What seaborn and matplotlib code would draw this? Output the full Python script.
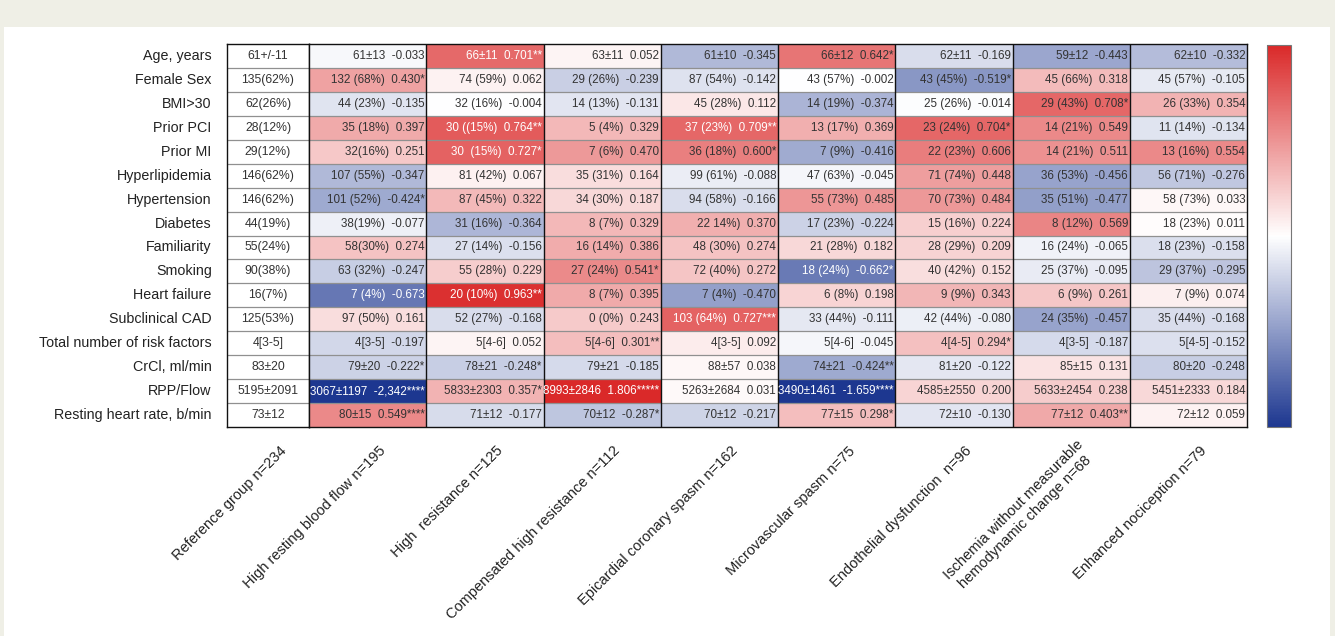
import numpy as np
import pandas as pd
import matplotlib
matplotlib.use("Agg")
import matplotlib.pyplot as plt
import matplotlib.transforms as mtransforms
from matplotlib.colors import LinearSegmentedColormap, ListedColormap
from matplotlib.patches import Rectangle
import seaborn as sns

# ---------------- data ----------------
rows = ["Age, years", "Female Sex", "BMI>30", "Prior PCI", "Prior MI", "Hyperlipidemia",
        "Hypertension", "Diabetes", "Familiarity", "Smoking", "Heart failure",
        "Subclinical CAD", "Total number of risk factors", "CrCl, ml/min", "RPP/Flow",
        "Resting heart rate, b/min"]

groups = ["Reference group n=234", "High resting blood flow n=195", "High  resistance n=125",
          "Compensated high resistance n=112", "Epicardial coronary spasm n=162",
          "Microvascular spasm n=75", "Endothelial dysfunction  n=96",
          "Ischemia without measurable\nhemodynamic change n=68", "Enhanced nociception n=79"]

ref_text = ["61+/-11", "135(62%)", "62(26%)", "28(12%)", "29(12%)", "146(62%)", "146(62%)",
            "44(19%)", "55(24%)", "90(38%)", "16(7%)", "125(53%)", "4[3-5]", "83±20",
            "5195±2091", "73±12"]

r_hrbf = [-0.033, 0.430, -0.135, 0.397, 0.251, -0.347, -0.424, -0.077, 0.274, -0.247,
          -0.673, 0.161, -0.197, -0.222, -2.342, 0.549]
t_hrbf = ["61±13  -0.033", "132 (68%)  0.430*", "44 (23%)  -0.135", "35 (18%)  0.397",
          "32(16%)  0.251", "107 (55%)  -0.347", "101 (52%)  -0.424*", "38(19%)  -0.077",
          "58(30%)  0.274", "63 (32%)  -0.247", "7 (4%)  -0.673", "97 (50%)  0.161",
          "4[3-5]  -0.197", "79±20  -0.222*", "3067±1197  -2,342****", "80±15  0.549****"]

r_hr = [0.701, 0.062, -0.004, 0.764, 0.727, 0.067, 0.322, -0.364, -0.156, 0.229,
        0.963, -0.168, 0.052, -0.248, 0.357, -0.177]
t_hr = ["66±11  0.701**", "74 (59%)  0.062", "32 (16%)  -0.004", "30 ((15%)  0.764**",
        "30  (15%)  0.727*", "81 (42%)  0.067", "87 (45%)  0.322", "31 (16%)  -0.364",
        "27 (14%)  -0.156", "55 (28%)  0.229", "20 (10%)  0.963**", "52 (27%)  -0.168",
        "5[4-6]  0.052", "78±21  -0.248*", "5833±2303  0.357*", "71±12  -0.177"]

r_chr = [0.052, -0.239, -0.131, 0.329, 0.470, 0.164, 0.187, 0.329, 0.386, 0.541,
         0.395, 0.243, 0.301, -0.185, 1.806, -0.287]
t_chr = ["63±11  0.052", "29 (26%)  -0.239", "14 (13%)  -0.131", "5 (4%)  0.329",
         "7 (6%)  0.470", "35 (31%)  0.164", "34 (30%)  0.187", "8 (7%)  0.329",
         "16 (14%)  0.386", "27 (24%)  0.541*", "8 (7%)  0.395", "0 (0%)  0.243",
         "5[4-6]  0.301**", "79±21  -0.185", "8993±2846  1.806*****", "70±12  -0.287*"]

r_ecs = [-0.345, -0.142, 0.112, 0.709, 0.600, -0.088, -0.166, 0.370, 0.274, 0.272,
         -0.470, 0.727, 0.092, 0.038, 0.031, -0.217]
t_ecs = ["61±10  -0.345", "87 (54%)  -0.142", "45 (28%)  0.112", "37 (23%)  0.709**",
         "36 (18%)  0.600*", "99 (61%)  -0.088", "94 (58%)  -0.166", "22 14%)  0.370",
         "48 (30%)  0.274", "72 (40%)  0.272", "7 (4%)  -0.470", "103 (64%)  0.727***",
         "4[3-5]  0.092", "88±57  0.038", "5263±2684  0.031", "70±12  -0.217"]

r_mvs = [0.642, -0.002, -0.374, 0.369, -0.416, -0.045, 0.485, -0.224, 0.182, -0.662,
         0.198, -0.111, -0.045, -0.424, -1.659, 0.298]
t_mvs = ["66±12  0.642*", "43 (57%)  -0.002", "14 (19%)  -0.374", "13 (17%)  0.369",
         "7 (9%)  -0.416", "47 (63%)  -0.045", "55 (73%)  0.485", "17 (23%)  -0.224",
         "21 (28%)  0.182", "18 (24%)  -0.662*", "6 (8%)  0.198", "33 (44%)  -0.111",
         "5[4-6]  -0.045", "74±21  -0.424**", "3490±1461  -1.659****", "77±15  0.298*"]

r_ed = [-0.169, -0.519, -0.014, 0.704, 0.606, 0.448, 0.484, 0.224, 0.209, 0.152,
        0.343, -0.080, 0.294, -0.122, 0.200, -0.130]
t_ed = ["62±11  -0.169", "43 (45%)  -0.519*", "25 (26%)  -0.014", "23 (24%)  0.704*",
        "22 (23%)  0.606", "71 (74%)  0.448", "70 (73%)  0.484", "15 (16%)  0.224",
        "28 (29%)  0.209", "40 (42%)  0.152", "9 (9%)  0.343", "42 (44%)  -0.080",
        "4[4-5]  0.294*", "81±20  -0.122", "4585±2550  0.200", "72±10  -0.130"]

r_isch = [-0.443, 0.318, 0.708, 0.549, 0.511, -0.456, -0.477, 0.569, -0.065, -0.095,
          0.261, -0.457, -0.187, 0.131, 0.238, 0.403]
t_isch = ["59±12  -0.443", "45 (66%)  0.318", "29 (43%)  0.708*", "14 (21%)  0.549",
          "14 (21%)  0.511", "36 (53%)  -0.456", "35 (51%)  -0.477", "8 (12%)  0.569",
          "16 (24%)  -0.065", "25 (37%)  -0.095", "6 (9%)  0.261", "24 (35%)  -0.457",
          "4[3-5]  -0.187", "85±15  0.131", "5633±2454  0.238", "77±12  0.403**"]

r_en = [-0.332, -0.105, 0.354, -0.134, 0.554, -0.276, 0.033, 0.011, -0.158, -0.295,
        0.074, -0.168, -0.152, -0.248, 0.184, 0.059]
t_en = ["62±10  -0.332", "45 (57%)  -0.105", "26 (33%)  0.354", "11 (14%)  -0.134",
        "13 (16%)  0.554", "56 (71%)  -0.276", "58 (73%)  0.033", "18 (23%)  0.011",
        "18 (23%)  -0.158", "29 (37%)  -0.295", "7 (9%)  0.074", "35 (44%)  -0.168",
        "5[4-5] -0.152", "80±20  -0.248", "5451±2333  0.184", "72±12  0.059"]

# cells printed in white in the original (row, column-of-colored-block)
light_cells = [(0, 1), (3, 1), (4, 1), (10, 1), (3, 3), (11, 3), (14, 0), (14, 2),
               (14, 4), (10, 0), (9, 4)]

# ---------------- figure ----------------
W, H = 1335, 636
sns.set_theme(style="white")
plt.rcParams['font.family'] = ['Liberation Sans', 'DejaVu Sans']

fig = plt.figure(figsize=(W / 100, H / 100), dpi=100)
fig.patch.set_facecolor('#efefe6')
fig.patches.append(Rectangle((4 / W, 0), (1330 - 4) / W, (636 - 27) / H,
                             transform=fig.transFigure, facecolor='white',
                             edgecolor='none', zorder=-5))

top, bottom = 44, 427
x_ref0, x_ref1, x_end = 227, 309, 1247
ax_ref = fig.add_axes([x_ref0 / W, 1 - bottom / H, (x_ref1 - x_ref0) / W, (bottom - top) / H])
ax = fig.add_axes([x_ref1 / W, 1 - bottom / H, (x_end - x_ref1) / W, (bottom - top) / H])
cax = fig.add_axes([1267 / W, 1 - 427 / H, 24 / W, 382 / H])

r_cols = [r_hrbf, r_hr, r_chr, r_ecs, r_mvs, r_ed, r_isch, r_en]
t_cols = [t_hrbf, t_hr, t_chr, t_ecs, t_mvs, t_ed, t_isch, t_en]
df = pd.DataFrame({g: r for g, r in zip(groups[1:], r_cols)}, index=rows)
df_ref = pd.DataFrame({groups[0]: np.zeros(len(rows))}, index=rows)

cmap = LinearSegmentedColormap.from_list("rb", ["#1d3790", "#ffffff", "#da2929"])

sns.heatmap(df, ax=ax, cmap=cmap, vmin=-1, vmax=1, cbar_ax=cax,
            xticklabels=True, yticklabels=False, linewidths=0)
sns.heatmap(df_ref, ax=ax_ref, cmap=ListedColormap(["white"]), cbar=False,
            xticklabels=True, yticklabels=True, linewidths=0)

nr = len(rows)
# grid lines
for a, ncol in ((ax, len(r_cols)), (ax_ref, 1)):
    a.hlines(np.arange(1, nr), 0, ncol, color='#909090', lw=0.9)
    if ncol > 1:
        a.vlines(np.arange(1, ncol), 0, nr, color='#111111', lw=1.0)
    for s in a.spines.values():
        s.set_visible(True)
        s.set_color('#111111')
        s.set_linewidth(1.0)

# annotations
for j, col in enumerate(t_cols):
    for i, txt in enumerate(col):
        c = 'white' if (i, j) in light_cells else '#333333'
        ax.text(j + 0.985, i + 0.5, txt, ha='right', va='center', fontsize=8.4, color=c)
for i, txt in enumerate(ref_text):
    ax_ref.text(0.5, i + 0.5, txt, ha='center', va='center', fontsize=8.8, color='#333333')

# tick labels
ax_ref.tick_params(axis='y', length=0, pad=11, labelsize=10.3, labelcolor='#222222')
for lab in ax_ref.get_yticklabels():
    lab.set_rotation(0)
for a in (ax, ax_ref):
    a.tick_params(axis='x', length=0, pad=4, labelsize=10.5, labelcolor='#222222')
    for lab in a.get_xticklabels():
        lab.set_rotation(45)
        lab.set_ha('right')
        lab.set_va('center')
        lab.set_rotation_mode('anchor')
        lab.set_multialignment('center')
        lab.set_transform(lab.get_transform() +
                          mtransforms.ScaledTranslation(16 / 100, -16 / 100, fig.dpi_scale_trans))
ax.set_xlabel("")
ax.set_ylabel("")
ax_ref.set_xlabel("")
ax_ref.set_ylabel("")

# colorbar
cbar = ax.collections[0].colorbar
cbar.set_ticks([])
cbar.outline.set_edgecolor('#777777')
cbar.outline.set_linewidth(0.8)

fig.savefig("out.png", dpi=100, facecolor=fig.get_facecolor())
